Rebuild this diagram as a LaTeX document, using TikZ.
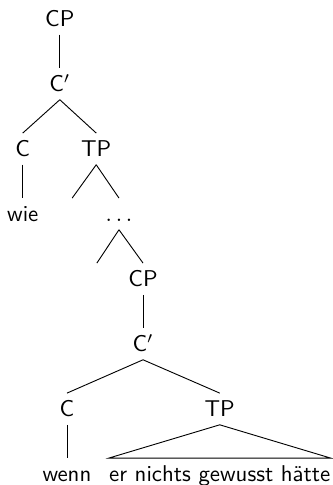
\documentclass[tikz,border=0pt]{standalone}
\usepackage{tikz}
\usetikzlibrary{calc}

\begin{document}
\begin{tikzpicture}[every node/.style={font=\sffamily, anchor=base, text height=6.8pt, text depth=0pt}]
	\useasboundingbox (0,-0.05) rectangle (5.12,7.41);

	% Matrix clause
	\node (cp) at (0.92,7) {CP};
	\node (cbar) at (0.92,6) {C$'$};
	\node (c) at (0.35,5) {C};
	\node (tp) at (1.48,5) {TP};
	\node (wie) at (0.35,4) {wie};
	\node (dots) at (1.83,4) {$\ldots$};
	\coordinate (tpleft) at ($(dots.north)+(-0.72,0)$);

	\draw (cp.south) -- (cbar.north);
	\draw (cbar.south) -- (c.north);
	\draw (cbar.south) -- (tp.north);
	\draw (c.south) -- (wie.north);
	\draw (tp.south) -- (tpleft);
	\draw (tp.south) -- (dots.north);

	% Embedded clause
	\node (cp2) at (2.2,3) {CP};
	\node (cbar2) at (2.2,2) {C$'$};
	\node (c2) at (1.03,1) {C};
	\node (tp2) at (3.38,1) {TP};
	\node (wenn) at (1.03,0) {wenn};
	\node[inner xsep=0pt] (phrase) at (3.38,0) {er nichts gewusst hätte};
	\coordinate (dotsleft) at ($(cp2.north)+(-0.71,0)$);

	\draw (dots.south) -- (dotsleft);
	\draw (dots.south) -- (cp2.north);
	\draw (cp2.south) -- (cbar2.north);
	\draw (cbar2.south) -- (c2.north);
	\draw (cbar2.south) -- (tp2.north);
	\draw (c2.south) -- (wenn.north);

	% Roof over TP
	\draw (tp2.south) -- (phrase.north west) -- (phrase.north east) -- cycle;
\end{tikzpicture}
\end{document}
